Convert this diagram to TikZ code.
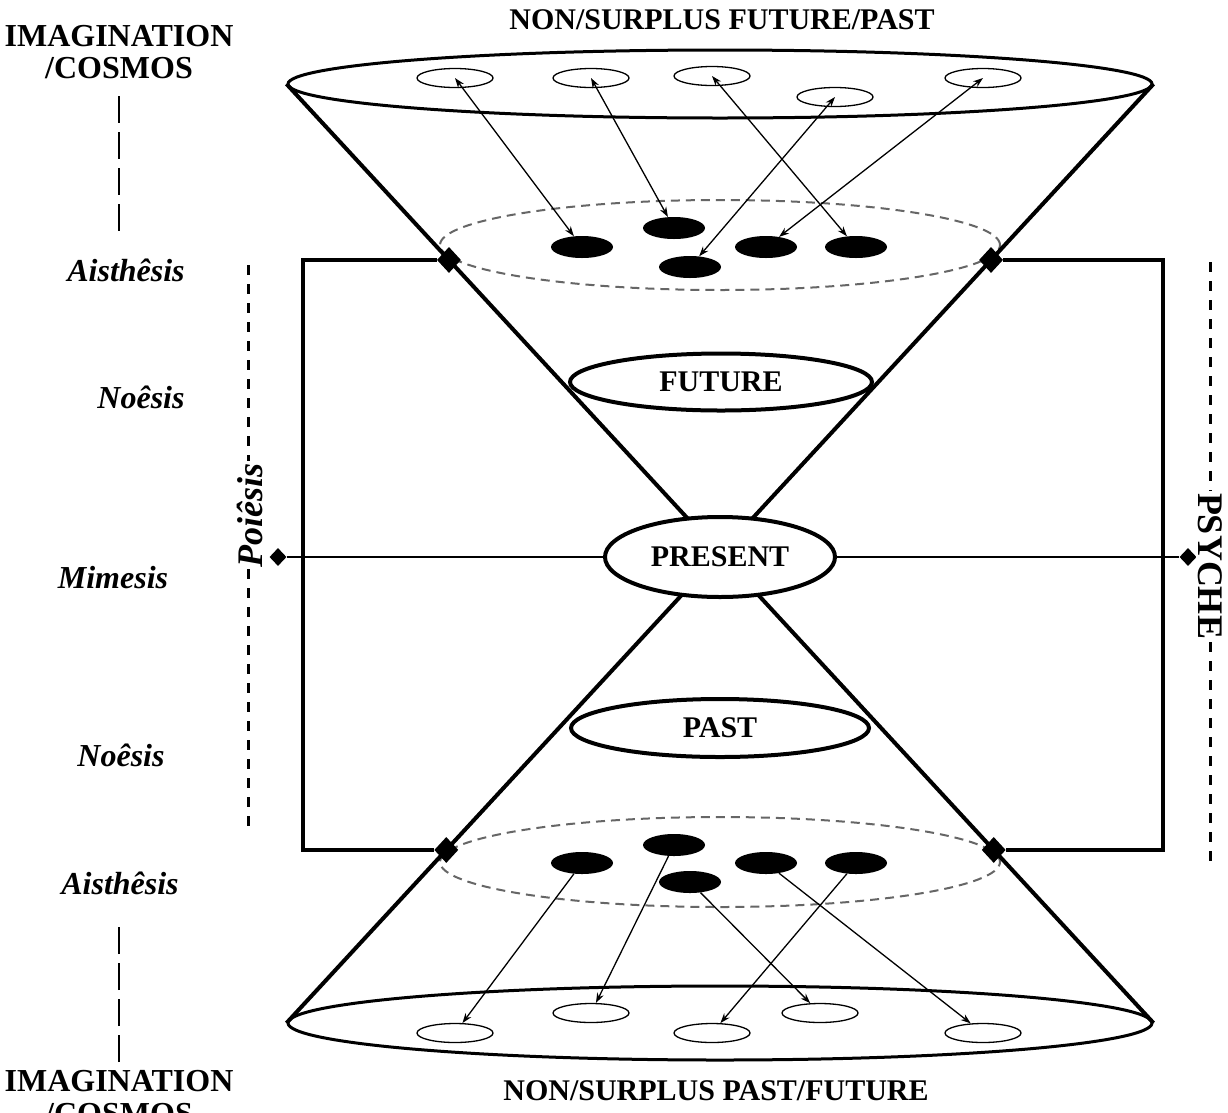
\documentclass[tikz,border=0pt]{standalone}
\usepackage{fontspec}
\setmainfont{Liberation Serif}
\usetikzlibrary{shapes.geometric,arrows.meta,calc}
\begin{document}
\begin{tikzpicture}[x=1pt,y=-1pt,
  thickline/.style={line width=4pt},
  bigell/.style={ellipse,draw,line width=3pt,inner sep=0pt,minimum width=864pt},
  dashell/.style={ellipse,draw=black!60,dash pattern=on 9pt off 6pt,line width=2pt,inner sep=0pt,minimum width=560pt,minimum height=90pt},
  wdot/.style={ellipse,draw,line width=1.3pt,inner sep=0pt,minimum width=76pt,minimum height=19pt},
  bdot/.style={ellipse,fill=black,inner sep=0pt,minimum width=62pt,minimum height=22pt},
  timeell/.style={ellipse,draw,fill=white,line width=4pt,inner sep=0pt,font=\fontsize{30}{32}\selectfont\bfseries},
  jdia/.style={diamond,fill=black,inner sep=0pt,minimum width=24pt,minimum height=26pt},
  sdia/.style={diamond,fill=black,inner sep=0pt,minimum width=17pt,minimum height=18pt},
  biarrow/.style={line width=1.3pt,{Stealth[length=10pt,width=7pt]}-{Stealth[length=10pt,width=7pt]}},
  onearrow/.style={line width=1.3pt,-{Stealth[length=10pt,width=7pt]}},
  caplab/.style={font=\fontsize{30}{32}\selectfont\bfseries,inner sep=0pt},
  imglab/.style={font=\fontsize{32}{34}\selectfont\bfseries,inner sep=0pt},
  itlab/.style={font=\fontsize{32}{34}\selectfont\bfseries\itshape,inner sep=0pt},
  bar/.style={line width=1.3pt,dash pattern=on 27pt off 9pt},
  sidedash/.style={line width=3pt,dash pattern=on 10pt off 9pt}
]
\useasboundingbox (0,0) rectangle (1228,1112);
\fill[white] (0,0) rectangle (1228,1112);

% big ellipses
\node[bigell,minimum height=68pt] (topE) at (720,84) {};
\node[bigell,minimum height=74pt] (botE) at (720,1023) {};

% dashed cross-sections
\node[dashell] (topD) at (720,245) {};
\node[dashell] (botD) at (720,862) {};

% cone lines
\draw[thickline] (topE.west) -- (botE.east);
\draw[thickline] (topE.east) -- (botE.west);

% junction diamonds on the cone
\node[jdia] (dTL) at ($(topE.west)!0.1874!(botE.east)$) {};
\node[jdia] (dTR) at ($(topE.east)!0.1874!(botE.west)$) {};
\node[jdia] (dBL) at ($(topE.east)!0.8157!(botE.west)$) {};
\node[jdia] (dBR) at ($(topE.west)!0.8157!(botE.east)$) {};

% brackets
\coordinate (LB) at (303,0);
\coordinate (RB) at (1163,0);
\draw[thickline] (dTL) -- (dTL -| LB) -- (dBL -| LB) -- (dBL);
\draw[thickline] (dTR) -- (dTR -| RB) -- (dBR -| RB) -- (dBR);

% horizontal present line
\node[sdia] (dML) at (278,557) {};
\node[sdia] (dMR) at (1188,557) {};
\draw[line width=2pt] (dML) -- (dMR);

% time ellipses
\node[timeell,minimum width=302pt,minimum height=57pt] (fut) at (721,382) {FUTURE};
\node[timeell,minimum width=230pt,minimum height=80pt] (pres) at (720,557) {PRESENT};
\node[timeell,minimum width=298pt,minimum height=58pt] (past) at (720,728) {PAST};

% top white ellipses
\node[wdot] (w1) at (455,78) {};
\node[wdot] (w2) at (591,78) {};
\node[wdot] (w3) at (712,76) {};
\node[wdot] (w4) at (835,97) {};
\node[wdot] (w5) at (983,78) {};
% top black ellipses
\node[bdot] (b1) at (582,247) {};
\node[bdot] (b2) at (674,228) {};
\node[bdot] (b3) at (690,267) {};
\node[bdot] (b4) at (766,247) {};
\node[bdot] (b5) at (856,247) {};
\draw[biarrow] (w1.center) -- (b1);
\draw[biarrow] (w2.center) -- (b2);
\draw[biarrow] (w3.center) -- (b5);
\draw[biarrow] (w4.center) -- (b3);
\draw[biarrow] (w5.center) -- (b4);

% bottom black ellipses
\node[bdot] (B1) at (582,863) {};
\node[bdot] (B2) at (674,845) {};
\node[bdot] (B3) at (690,882) {};
\node[bdot] (B4) at (766,863) {};
\node[bdot] (B5) at (856,863) {};
% bottom white ellipses
\node[wdot] (W1) at (455,1033) {};
\node[wdot] (W2) at (591,1013) {};
\node[wdot] (W3) at (712,1033) {};
\node[wdot] (W4) at (820,1013) {};
\node[wdot] (W5) at (983,1033) {};
\draw[onearrow] (B1) -- (W1);
\draw[onearrow] (B2) -- (W2);
\draw[onearrow] (B3) -- (W4);
\draw[onearrow] (B5) -- (W3);
\draw[onearrow] (B4) -- (W5);

% titles
\node[caplab] (ttop) at (722,20) {NON/SURPLUS FUTURE/PAST};
\node[caplab] (tbot) at (716,1091) {NON/SURPLUS PAST/FUTURE};

% left column
\node[imglab] (imgT) at (119,36) {IMAGINATION};
\node[imglab] (cosT) at (119,68) {/COSMOS};
\coordinate (barT1) at (119,96);
\coordinate (barT2) at (119,234);
\draw[bar] (barT1) -- (barT2);
\node[itlab] (ais1) at (126,270) {Aisthêsis};
\node[itlab] (noe1) at (141,397) {Noêsis};
\node[itlab] (mim) at (113,578) {Mimesis};
\node[itlab] (noe2) at (121,755) {Noêsis};
\node[itlab] (ais2) at (120,883) {Aisthêsis};
\coordinate (barB1) at (119,1062);
\coordinate (barB2) at (119,920);
\draw[bar] (barB1) -- (barB2);
\node[imglab] (imgB) at (119,1081) {IMAGINATION};
\node[imglab] (cosB) at (119,1114) {/COSMOS};

% Poiesis dashed line
\coordinate (poiT) at (248,265);
\coordinate (poiB) at (248,830);
\draw[sidedash] (poiT) -- (poiB);
\node[rotate=90,fill=white,inner sep=2pt,font=\fontsize{36}{38}\selectfont\bfseries\itshape] (poi) at (250,515) {Poiêsis};

% Psyche dashed line
\coordinate (psyT) at (1210,262);
\coordinate (psyB) at (1210,870);
\draw[sidedash] (psyT) -- (psyB);
\node[rotate=-90,fill=white,inner sep=2pt,font=\fontsize{36}{38}\selectfont\bfseries] (psy) at (1210,566) {PSYCHE};
\end{tikzpicture}
\end{document}
